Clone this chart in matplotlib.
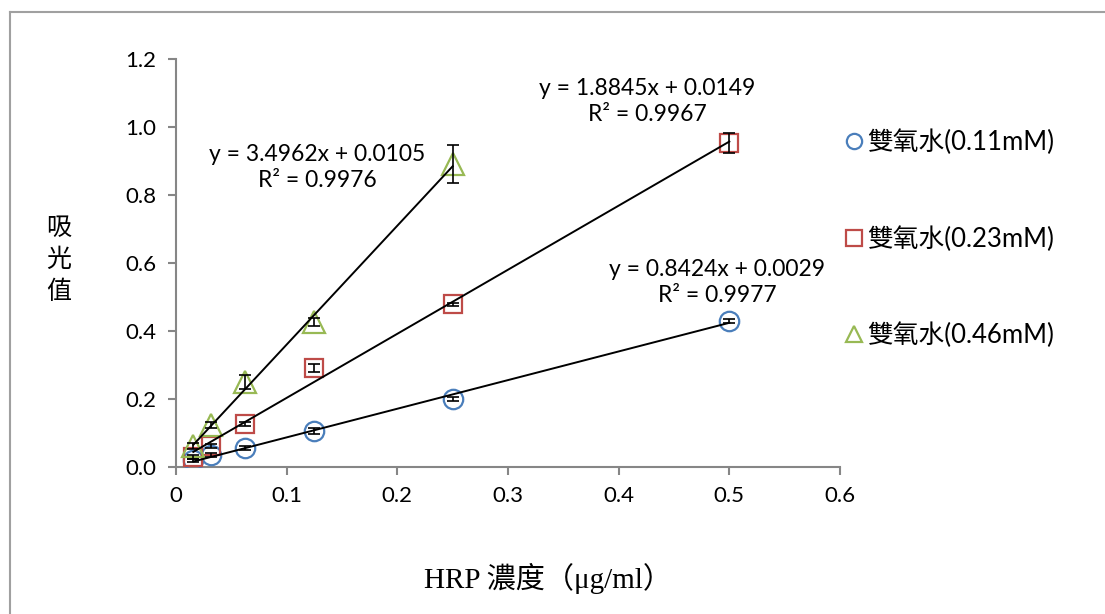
import matplotlib
matplotlib.use("Agg")
import matplotlib.pyplot as plt
from matplotlib.lines import Line2D
import numpy as np

plt.rcParams['font.family'] = ['Lato', 'Noto Sans CJK TC', 'DejaVu Sans']

# HRP concentration (ug/ml)
x_all = [0.015625, 0.03125, 0.0625, 0.125, 0.25, 0.5]
x_green = [0.015625, 0.03125, 0.0625, 0.125, 0.25]

blue_y = [0.020, 0.035, 0.056, 0.106, 0.200, 0.430]
blue_err = [0.005, 0.005, 0.005, 0.008, 0.005, 0.006]
red_y = [0.030, 0.062, 0.126, 0.291, 0.478, 0.953]
red_err = [0.005, 0.005, 0.005, 0.012, 0.004, 0.030]
green_y = [0.062, 0.124, 0.250, 0.426, 0.891]
green_err = [0.008, 0.008, 0.022, 0.012, 0.055]

labels = ['雙氧水(0.11mM)', '雙氧水(0.23mM)', '雙氧水(0.46mM)']
fits = [(0.8424, 0.0029, 0.9977), (1.8845, 0.0149, 0.9967), (3.4962, 0.0105, 0.9976)]

xticks = [0, 0.1, 0.2, 0.3, 0.4, 0.5, 0.6]
yticks = [0.0, 0.2, 0.4, 0.6, 0.8, 1.0, 1.2]

c_blue = '#4A7EBB'
c_red = '#BE4B48'
c_green = '#98B954'
gray = '#868686'

W, H = 1105, 614
fig = plt.figure(figsize=(W / 100, H / 100), dpi=100)
ax = fig.add_axes([176 / W, 1 - 467 / H, (840 - 176) / W, (467 - 59) / H])

series = [
    (x_all, blue_y, blue_err, 'o', c_blue, 14),
    (x_all, red_y, red_err, 's', c_red, 13.5),
    (x_green, green_y, green_err, '^', c_green, 16),
]
for (xs, ys, es, m, c, ms), (a, b, r2) in zip(series, fits):
    ax.plot(xs, ys, linestyle='none', marker=m, markersize=ms, markerfacecolor='none',
            markeredgecolor=c, markeredgewidth=1.6, zorder=3)
    ax.errorbar(xs, ys, yerr=es, fmt='none', ecolor='black', elinewidth=1.2,
                capsize=4, capthick=1.2, zorder=4)
    xf = np.array([min(xs), max(xs)])
    ax.plot(xf, a * xf + b, color='black', linewidth=1.4, zorder=5)

ann_font = dict(fontsize=16.5, ha='center', va='center', family=['Lato', 'DejaVu Sans'])
ax.text(0.1274, 0.882, 'y = 3.4962x + 0.0105\nR² = 0.9976', linespacing=1.3, **ann_font)
ax.text(0.4256, 1.076, 'y = 1.8845x + 0.0149\nR² = 0.9967', linespacing=1.3, **ann_font)
ax.text(0.489, 0.543, 'y = 0.8424x + 0.0029\nR² = 0.9977', linespacing=1.3, **ann_font)

ax.set_xlim(0, 0.6)
ax.set_ylim(0, 1.2)
ax.set_xticks(xticks)
ax.set_xticklabels([f'{v:g}' for v in xticks])
ax.set_yticks(yticks)
ax.set_yticklabels([f'{v:.1f}' for v in yticks])
for s in ['top', 'right']:
    ax.spines[s].set_visible(False)
for s in ['left', 'bottom']:
    ax.spines[s].set_color(gray)
    ax.spines[s].set_linewidth(1.5)
ax.tick_params(axis='both', direction='out', length=6, width=1.5, color=gray,
               labelsize=16, pad=8)

fig.text(59 / W, 1 - 260 / H, '吸\n光\n值', fontsize=18, ha='center', va='center',
         linespacing=1.3, family=['Noto Sans CJK TC'])
fig.text(548 / W, 1 - 578 / H, 'HRP 濃度（μg/ml）', fontsize=21, ha='center', va='center',
         family=['Liberation Serif', 'Noto Sans CJK TC'])

handles = [
    Line2D([], [], linestyle='none', marker='o', markersize=11, markerfacecolor='none',
           markeredgecolor=c_blue, markeredgewidth=1.6),
    Line2D([], [], linestyle='none', marker='s', markersize=11, markerfacecolor='none',
           markeredgecolor=c_red, markeredgewidth=1.6),
    Line2D([], [], linestyle='none', marker='^', markersize=12, markerfacecolor='none',
           markeredgecolor=c_green, markeredgewidth=1.6),
]
fig.legend(handles, labels, loc='center left', bbox_to_anchor=(831 / W, 1 - 239 / H),
           frameon=False, labelspacing=2.75, handlelength=0.8,
           handletextpad=0.1, borderpad=0,
           prop={'family': ['Lato', 'Noto Sans CJK TC', 'DejaVu Sans'], 'size': 18.5})

# outer chart border (left and top edges visible)
fig.add_artist(Line2D([10 / W, 10 / W], [0, 1 - 12 / H], transform=fig.transFigure,
                      color='#A0A0A0', linewidth=1.5))
fig.add_artist(Line2D([10 / W, 1.0], [1 - 12 / H, 1 - 12 / H], transform=fig.transFigure,
                      color='#A0A0A0', linewidth=1.5))

fig.savefig('out.png', dpi=100)
